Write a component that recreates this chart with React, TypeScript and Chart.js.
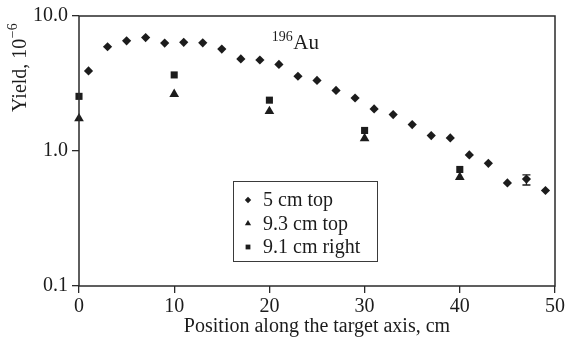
import { useEffect, useRef } from "react";
import { Chart, registerables } from "chart.js";

Chart.register(...registerables);

// Position along the target axis, cm
const positionsTop5 = [1, 3, 5, 7, 9, 11, 13, 15, 17, 19, 21, 23, 25, 27, 29, 31, 33, 35, 37, 39, 41, 43, 45, 47, 49];
// Yield, 10^-6
const yieldTop5 = [3.92, 5.92, 6.55, 6.92, 6.3, 6.38, 6.33, 5.69, 4.81, 4.72, 4.38, 3.58, 3.33, 2.81, 2.47, 2.05, 1.86, 1.57, 1.3, 1.25, 0.935, 0.81, 0.58, 0.62, 0.51];

const positionsTop93 = [0, 10, 20, 30, 40];
const yieldTop93 = [1.74, 2.64, 1.97, 1.24, 0.64];

const positionsRight91 = [0, 10, 20, 30, 40];
const yieldRight91 = [2.54, 3.66, 2.38, 1.42, 0.73];

// Error bar on the 5 cm top series
const errorBarPositions = [47];
const errorBarLow = [0.56];
const errorBarHigh = [0.665];

const seriesLabels = ["5 cm top", "9.3 cm top", "9.1 cm right"];
const xTickValues = [0, 10, 20, 30, 40, 50];
const yTickValues = [0.1, 1, 10];

const FONT = '"Liberation Serif", "Times New Roman", serif';
const INK = "#1c1c1c";

type Shape = "diamond" | "triangle" | "square";

function drawShape(ctx: CanvasRenderingContext2D, shape: Shape, x: number, y: number, r: number) {
  ctx.beginPath();
  if (shape === "diamond") {
    ctx.moveTo(x, y - r);
    ctx.lineTo(x + r, y);
    ctx.lineTo(x, y + r);
    ctx.lineTo(x - r, y);
  } else if (shape === "triangle") {
    const h = r * 1.5;
    const w = r * Math.sqrt(3);
    ctx.moveTo(x, y - r);
    ctx.lineTo(x + w / 2, y - r + h);
    ctx.lineTo(x - w / 2, y - r + h);
  } else {
    ctx.rect(x - r, y - r, 2 * r, 2 * r);
  }
  ctx.closePath();
  ctx.fill();
}

const decorations = {
  id: "decorations",
  afterDatasetsDraw(chart: any) {
    const { ctx, scales } = chart;
    const xs = scales.x;
    const ys = scales.y;
    ctx.save();
    ctx.strokeStyle = INK;
    ctx.lineWidth = 1.3;
    errorBarPositions.forEach((p, i) => {
      const px = xs.getPixelForValue(p);
      const lo = ys.getPixelForValue(errorBarLow[i]);
      const hi = ys.getPixelForValue(errorBarHigh[i]);
      ctx.beginPath();
      ctx.moveTo(px, lo);
      ctx.lineTo(px, hi);
      ctx.moveTo(px - 4, lo);
      ctx.lineTo(px + 4, lo);
      ctx.moveTo(px - 4, hi);
      ctx.lineTo(px + 4, hi);
      ctx.stroke();
    });
    ctx.restore();
  },
  afterDraw(chart: any) {
    const { ctx, chartArea: a } = chart;
    ctx.save();

    // plot frame
    ctx.strokeStyle = "#2a2a2a";
    ctx.lineWidth = 1.5;
    ctx.strokeRect(a.left, a.top, a.right - a.left, a.bottom - a.top);

    ctx.fillStyle = INK;
    ctx.textBaseline = "alphabetic";

    // isotope label
    const lx = a.left + (a.right - a.left) * 0.405;
    const ly = a.top + 33;
    ctx.font = `14px ${FONT}`;
    ctx.textAlign = "left";
    ctx.fillText("196", lx, ly - 8);
    const supW = ctx.measureText("196").width;
    ctx.font = `21px ${FONT}`;
    ctx.fillText("Au", lx + supW + 0.5, ly);

    // x axis title
    ctx.font = `20px ${FONT}`;
    ctx.textAlign = "center";
    ctx.fillText("Position along the target axis, cm", (a.left + a.right) / 2, a.bottom + 46);

    // y axis title, rotated
    ctx.save();
    ctx.translate(26, a.top + 96);
    ctx.rotate(-Math.PI / 2);
    ctx.textAlign = "left";
    ctx.font = `20px ${FONT}`;
    const main = "Yield, 10";
    ctx.fillText(main, 0, 0);
    const mw = ctx.measureText(main).width;
    ctx.font = `14px ${FONT}`;
    ctx.fillText("\u22126", mw + 0.5, -9);
    ctx.restore();

    // legend
    const bx = a.left + 154;
    const by = a.top + 165;
    const bw = 144;
    const bh = 80;
    ctx.strokeStyle = "#3a3a3a";
    ctx.lineWidth = 1;
    ctx.strokeRect(bx + 0.5, by + 0.5, bw, bh);
    const shapes: Shape[] = ["diamond", "triangle", "square"];
    const sizes = [3.2, 3.6, 2.4];
    ctx.font = `20px ${FONT}`;
    ctx.textAlign = "left";
    ctx.textBaseline = "middle";
    seriesLabels.forEach((label, i) => {
      const cy = by + 19 + i * 23.5;
      drawShape(ctx, shapes[i], bx + 15, cy, sizes[i]);
      ctx.fillText(label, bx + 30, cy + 1);
    });

    ctx.restore();
  },
};

export default function App() {
  const canvasRef = useRef<HTMLCanvasElement | null>(null);

  useEffect(() => {
    const canvas = canvasRef.current;
    if (!canvas) return;
    const chart = new Chart(canvas, {
      type: "scatter",
      data: {
        datasets: [
          {
            label: seriesLabels[0],
            data: positionsTop5.map((x, i) => ({ x, y: yieldTop5[i] })),
            pointStyle: "rectRot",
            pointRadius: 4.6,
            backgroundColor: INK,
            borderColor: INK,
            borderWidth: 0,
            clip: false,
          },
          {
            label: seriesLabels[1],
            data: positionsTop93.map((x, i) => ({ x, y: yieldTop93[i] })),
            pointStyle: "triangle",
            pointRadius: 5.6,
            backgroundColor: INK,
            borderColor: INK,
            borderWidth: 0,
            clip: false,
          },
          {
            label: seriesLabels[2],
            data: positionsRight91.map((x, i) => ({ x, y: yieldRight91[i] })),
            pointStyle: "rect",
            pointRadius: 5,
            backgroundColor: INK,
            borderColor: INK,
            borderWidth: 0,
            clip: false,
          },
        ],
      },
      options: {
        responsive: false,
        animation: false,
        devicePixelRatio: 1,
        layout: { padding: { left: 0, top: 14, right: 15, bottom: 0 } },
        plugins: { legend: { display: false }, tooltip: { enabled: false } },
        scales: {
          x: {
            type: "linear",
            min: 0,
            max: 50,
            afterBuildTicks: (scale: any) => {
              scale.ticks = xTickValues.map((value) => ({ value }));
            },
            afterFit: (scale: any) => {
              scale.height = 51;
            },
            border: { display: false },
            grid: { drawOnChartArea: false, drawTicks: true, tickLength: 7, color: "#2a2a2a", lineWidth: 1.3 },
            ticks: { color: INK, padding: 2, font: { family: FONT, size: 20 }, maxRotation: 0 },
          },
          y: {
            type: "logarithmic",
            min: 0.1,
            max: 10,
            afterBuildTicks: (scale: any) => {
              scale.ticks = yTickValues.map((value) => ({ value }));
            },
            afterFit: (scale: any) => {
              scale.width = 79;
            },
            border: { display: false },
            grid: { drawOnChartArea: false, drawTicks: true, tickLength: 7, color: "#2a2a2a", lineWidth: 1.3 },
            ticks: {
              color: INK,
              padding: 4,
              font: { family: FONT, size: 20 },
              callback: (value: any) => Number(value).toFixed(1),
            },
          },
        },
      },
      plugins: [decorations],
    });
    return () => chart.destroy();
  }, []);

  return (
    <div style={{ position: "absolute", left: 0, top: 0, width: 570, height: 337, background: "#fff" }}>
      <canvas ref={canvasRef} width={570} height={337} />
    </div>
  );
}
